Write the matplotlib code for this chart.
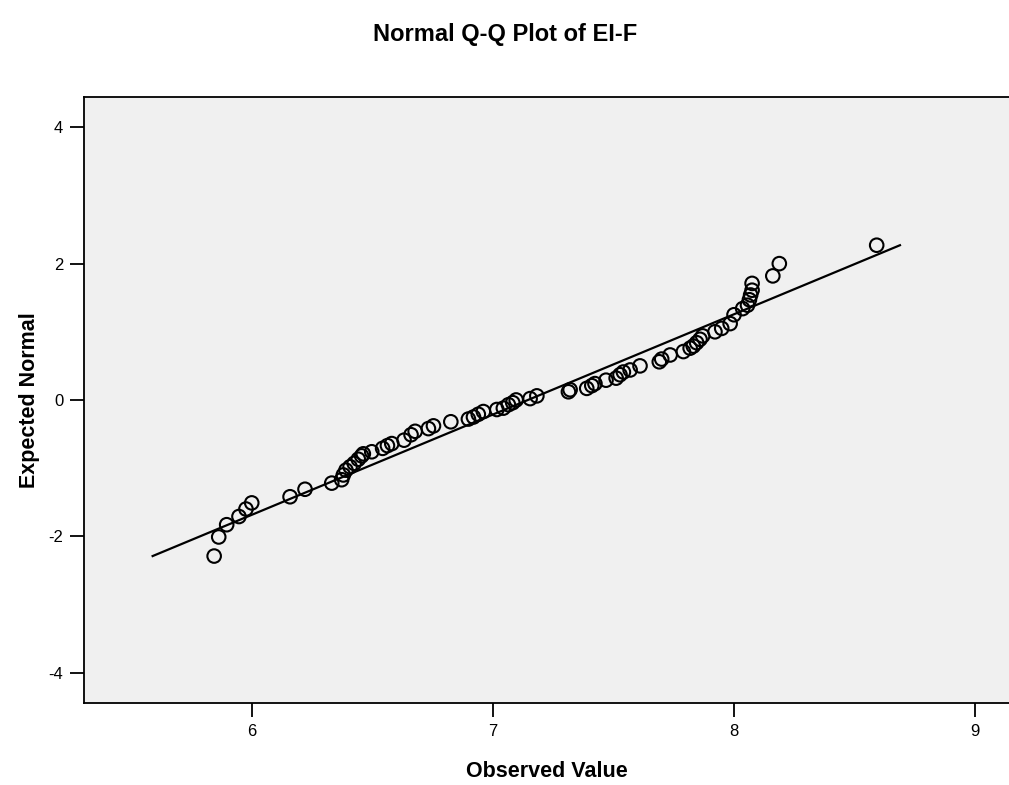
import matplotlib
matplotlib.use("Agg")
import matplotlib.pyplot as plt
import numpy as np

observed = [5.844, 5.863, 5.896, 5.947, 5.976, 6.000, 6.159, 6.221, 6.332,
            6.373, 6.380, 6.391, 6.408, 6.425, 6.442, 6.456, 6.463, 6.498,
            6.543, 6.563, 6.581, 6.632, 6.661, 6.678, 6.733, 6.754, 6.826,
            6.899, 6.920, 6.940, 6.961, 7.017, 7.044, 7.065, 7.083, 7.097,
            7.155, 7.183, 7.314, 7.321, 7.390, 7.411, 7.424, 7.470, 7.512,
            7.528, 7.542, 7.570, 7.611, 7.691, 7.701, 7.736, 7.791, 7.819,
            7.832, 7.846, 7.860, 7.871, 7.922, 7.950, 7.985, 8.001, 8.037,
            8.057, 8.065, 8.070, 8.076, 8.076, 8.162, 8.189, 8.593]
expected = [-2.29, -2.01, -1.83, -1.71, -1.60, -1.51, -1.42, -1.31, -1.22,
            -1.17, -1.10, -1.03, -0.98, -0.93, -0.87, -0.82, -0.79, -0.76,
            -0.71, -0.67, -0.64, -0.59, -0.51, -0.46, -0.42, -0.38, -0.32,
            -0.28, -0.25, -0.21, -0.17, -0.14, -0.12, -0.07, -0.04, 0.00,
            0.02, 0.06, 0.12, 0.15, 0.17, 0.21, 0.24, 0.29, 0.32,
            0.37, 0.41, 0.44, 0.50, 0.56, 0.60, 0.66, 0.71, 0.76,
            0.79, 0.84, 0.89, 0.94, 1.00, 1.05, 1.12, 1.25, 1.34,
            1.39, 1.47, 1.54, 1.61, 1.71, 1.82, 2.00, 2.27]
line_mean = 7.146
line_sd = 0.680

x_ticks = [6, 7, 8, 9]
y_ticks = [-4, -2, 0, 2, 4]

plt.rcParams['font.family'] = ['Liberation Sans', 'DejaVu Sans']
plt.rcParams['axes.unicode_minus'] = False

fig = plt.figure(figsize=(10.09, 7.85), dpi=100)
ax = fig.add_axes([84 / 1009, 1 - 703.3 / 785, 1 - 84 / 1009, (703.3 - 97.3) / 785])
ax.set_facecolor('#f0f0f0')

ymin, ymax = min(expected), max(expected)
lx = np.array([line_mean + line_sd * ymin, line_mean + line_sd * ymax])
ly = (lx - line_mean) / line_sd
ax.plot(lx, ly, color='black', lw=1.6, zorder=2)

ax.scatter(observed, expected, s=95, facecolors='none', edgecolors='black',
           linewidths=1.5, zorder=3)

ax.set_xlim(5.304, 9.142)
ax.set_ylim(-4.45, 4.44)
ax.set_xticks(x_ticks)
ax.set_yticks(y_ticks)
ax.tick_params(direction='out', length=10, width=1.3, labelsize=12, pad=5)
for s in ['left', 'bottom', 'top']:
    ax.spines[s].set_linewidth(1.3)
ax.spines['right'].set_visible(False)

ax.set_xlabel('Observed Value', fontsize=15.5, fontweight='bold', labelpad=16)
ax.set_ylabel('Expected Normal', fontsize=15.5, fontweight='bold', labelpad=6)
fig.text(505 / 1009, 1 - 35 / 785, 'Normal Q-Q Plot of EI-F', fontsize=17,
         fontweight='bold', ha='center', va='center')

fig.savefig('out.png', dpi=100)
